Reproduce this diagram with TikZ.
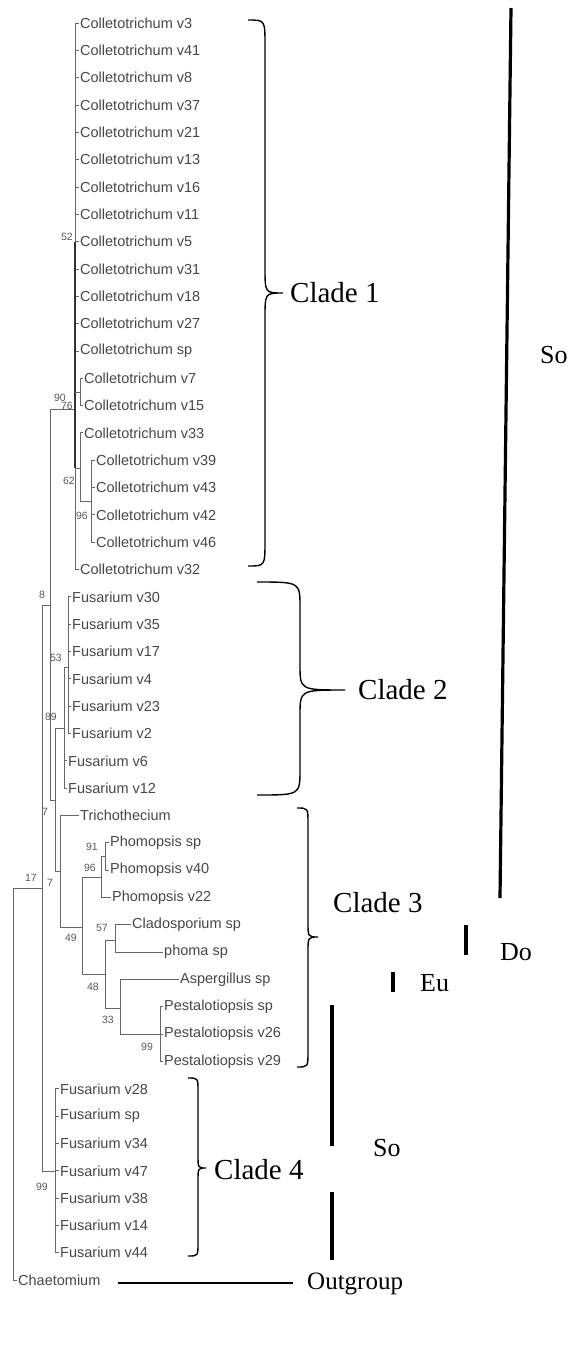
\documentclass[tikz,border=0pt]{standalone}
\usepackage{fontspec}
\setmainfont{Liberation Serif}
\newfontfamily\arialf{Liberation Sans}
\begin{document}
\begin{tikzpicture}[x=1pt,y=-1pt,
  leaf/.style={anchor=west, inner xsep=1.5pt, inner ysep=0pt, font=\arialf\fontsize{14.5}{15}\selectfont, text=black!72},
  sv/.style={font=\arialf\fontsize{10.5}{11}\selectfont, text=black!65, inner sep=0pt},
  br/.style={draw=black!60, line width=1pt},
  darkbr/.style={draw=black!80, line width=2pt},
  cbrace/.style={draw=black, line width=1.4pt},
  big/.style={font=\fontsize{29}{30}\selectfont, anchor=west, inner sep=0pt},
  mid/.style={font=\fontsize{26}{27}\selectfont, anchor=west, inner sep=0pt},
  bar/.style={draw=black, line width=3.2pt},
  conn/.style={draw=black, line width=1.3pt}]
\useasboundingbox[fill=white] (0,0) rectangle (571,1366);
% leaves
\foreach \i/\px/\tx/\yy/\t in {
0/75/80/23.0/Colletotrichum v3,
1/75/80/50.3/Colletotrichum v41,
2/75/80/77.7/Colletotrichum v8,
3/75/80/105.0/Colletotrichum v37,
4/75/80/132.3/Colletotrichum v21,
5/75/80/159.7/Colletotrichum v13,
6/75/80/187.0/Colletotrichum v16,
7/75/80/214.3/Colletotrichum v11,
8/75/80/241.6/Colletotrichum v5,
9/75/80/269.0/Colletotrichum v31,
10/75/80/296.3/Colletotrichum v18,
11/75/80/323.6/Colletotrichum v27,
12/75/80/351.0/Colletotrichum sp,
13/80/84/378.3/Colletotrichum v7,
14/80/84/405.6/Colletotrichum v15,
15/80/84/432.9/Colletotrichum v33,
16/91/96/460.3/Colletotrichum v39,
17/91/96/487.6/Colletotrichum v43,
18/91/96/514.9/Colletotrichum v42,
19/91/96/542.3/Colletotrichum v46,
20/75/80/569.6/Colletotrichum v32,
21/68/72/596.9/Fusarium v30,
22/68/72/624.3/Fusarium v35,
23/68/72/651.6/Fusarium v17,
24/68/72/678.9/Fusarium v4,
25/68/72/706.3/Fusarium v23,
26/68/72/733.6/Fusarium v2,
27/64/68/760.9/Fusarium v6,
28/64/68/788.2/Fusarium v12,
29/60/80/815.6/Trichothecium,
30/105/110/842.9/Phomopsis sp,
31/105/110/870.2/Phomopsis v40,
32/101/112/897.6/Phomopsis v22,
33/115/132/924.9/Cladosporium sp,
34/115/164/952.2/phoma sp,
35/120/180/979.6/Aspergillus sp,
36/160/164/1006.9/Pestalotiopsis sp,
37/160/164/1034.2/Pestalotiopsis v26,
38/160/164/1061.5/Pestalotiopsis v29,
39/55/60/1088.9/Fusarium v28,
40/55/60/1116.2/Fusarium sp,
41/55/60/1143.5/Fusarium v34,
42/55/60/1170.9/Fusarium v47,
43/55/60/1198.2/Fusarium v38,
44/55/60/1225.5/Fusarium v14,
45/55/60/1252.8/Fusarium v44,
46/13/18/1280.2/Chaetomium}{
  \node[leaf] (l\i) at (\tx-1.5,\yy) {\t};
  \draw[br] (\px,\yy) -- (l\i.west);
}
% internal nodes
\coordinate (cA) at (75,409);
\coordinate (n76) at (80,392);
\coordinate (n62) at (80,468);
\coordinate (n96) at (91,501);
\coordinate (n8) at (50,605);
\coordinate (n7a) at (55,800);
\coordinate (n89) at (64,728);
\coordinate (n53) at (68,667);
\coordinate (n7b) at (60,871);
\coordinate (n49) at (82,927);
\coordinate (n96p) at (101,877);
\coordinate (n91) at (105,856);
\coordinate (n48) at (105,974);
\coordinate (n57) at (115,940);
\coordinate (n33) at (120,1008);
\coordinate (n99p) at (160,1034);
\coordinate (n17) at (42,888);
\coordinate (n99) at (55,1171);
\coordinate (root) at (13,1084);
% branches
\draw[br] (root |- n17) -- (root |- l46);
\draw[br] (root |- n17) -- (n17);
\draw[br] (n17 |- n8) -- (n17 |- n99);
\draw[br] (n17 |- n8) -- (n8);
\draw[br] (n17 |- n99) -- (n99);
\draw[br] (n8 |- cA) -- (n8 |- n7a);
\draw[br] (n8 |- cA) -- (cA);
\draw[br] (n8 |- n7a) -- (n7a);
\draw[br] (cA |- l0) -- (cA |- l20);
\draw[darkbr] (cA |- l8) -- (cA |- n62);
\draw[br] (cA |- n76) -- (n76);
\draw[br] (cA |- n62) -- (n62);
\draw[br] (n76 |- l13) -- (n76 |- l14);
\draw[br] (n62 |- l15) -- (n62 |- n96);
\draw[br] (n62 |- n96) -- (n96);
\draw[br] (n96 |- l16) -- (n96 |- l19);
\draw[br] (n7a |- n89) -- (n7a |- n7b);
\draw[br] (n7a |- n89) -- (n89);
\draw[br] (n7a |- n7b) -- (n7b);
\draw[br] (n89 |- n53) -- (n89 |- l28);
\draw[br] (n89 |- n53) -- (n53);
\draw[br] (n53 |- l21) -- (n53 |- l26);
\draw[br] (n7b |- l29) -- (n7b |- n49);
\draw[br] (n7b |- n49) -- (n49);
\draw[br] (n49 |- n96p) -- (n49 |- n48);
\draw[br] (n49 |- n96p) -- (n96p);
\draw[br] (n49 |- n48) -- (n48);
\draw[br] (n96p |- n91) -- (n96p |- l32);
\draw[br] (n96p |- n91) -- (n91);
\draw[br] (n91 |- l30) -- (n91 |- l31);
\draw[br] (n48 |- n57) -- (n48 |- n33);
\draw[br] (n48 |- n57) -- (n57);
\draw[br] (n48 |- n33) -- (n33);
\draw[br] (n57 |- l33) -- (n57 |- l34);
\draw[br] (n33 |- l35) -- (n33 |- n99p);
\draw[br] (n33 |- n99p) -- (n99p);
\draw[br] (n99p |- l36) -- (n99p |- l38);
\draw[br] (n99 |- l39) -- (n99 |- l45);
% support values
\node[sv] (s52) at (67,237) {52};
\node[sv] (s90) at (60,398) {90};
\node[sv] (s76) at (67,406) {76};
\node[sv] (s62) at (69,481) {62};
\node[sv] (s96a) at (82,516) {96};
\node[sv] (s8) at (42,595) {8};
\node[sv] (s53) at (56,658) {53};
\node[sv] (s89) at (51,717) {89};
\node[sv] (s7a) at (45,812) {7};
\node[sv] (s17) at (31,878) {17};
\node[sv] (s7b) at (50,883) {7};
\node[sv] (s91) at (92,847) {91};
\node[sv] (s96b) at (90,868) {96};
\node[sv] (s49) at (71,938) {49};
\node[sv] (s57) at (102,928) {57};
\node[sv] (s48) at (93,987) {48};
\node[sv] (s33) at (108,1020) {33};
\node[sv] (s99a) at (147,1047) {99};
\node[sv] (s99b) at (42,1187) {99};
% braces
\draw[cbrace] (248,20) .. controls (265,20) .. (265,45) -- (265,268) .. controls (265,293) .. (283,293) .. controls (265,293) .. (265,318) -- (265,541) .. controls (265,566) .. (248,566);
\draw[cbrace] (257,582) .. controls (300,582) .. (300,607) -- (300,665) .. controls (300,690) .. (345,690) .. controls (300,690) .. (300,715) -- (300,770) .. controls (300,795) .. (257,795);
\draw[cbrace] (297,808) .. controls (308,808) .. (308,823) -- (308,922) .. controls (308,937) .. (318,937) .. controls (308,937) .. (308,952) -- (308,1052) .. controls (308,1067) .. (297,1067);
\draw[cbrace] (188,1078) .. controls (198,1078) .. (198,1091) -- (198,1155) .. controls (198,1168) .. (206,1168) .. controls (198,1168) .. (198,1181) -- (198,1243) .. controls (198,1256) .. (188,1256);
% labels
\node[big] (clade1) at (290,293) {Clade 1};
\node[big] (clade2) at (358,690) {Clade 2};
\node[big] (clade3) at (333,903) {Clade 3};
\node[big] (clade4) at (214,1170) {Clade 4};
\node[mid] (so1) at (540,355) {So};
\node[mid] (do) at (500,952) {Do};
\node[mid] (eu) at (420,983) {Eu};
\node[mid] (so2) at (373,1148) {So};
\node[mid, font=\fontsize{25}{26}\selectfont] (outg) at (307,1284) {Outgroup};
% bars
\coordinate (soTop) at (511,8);
\coordinate (soBot) at (500,898);
\draw[bar] (soTop) -- (soBot);
\coordinate (doTop) at (466,925);
\coordinate (doBot) at (466,955);
\draw[bar] (doTop) -- (doBot);
\coordinate (euTop) at (393,972);
\coordinate (euBot) at (393,992);
\draw[bar] (euTop) -- (euBot);
\coordinate (sbA) at (332,1005);
\coordinate (sbB) at (332,1146);
\coordinate (sbC) at (332,1192);
\coordinate (sbD) at (332,1260);
\draw[bar] (sbA) -- (sbB);
\draw[bar] (sbC) -- (sbD);
\coordinate (ogA) at (118,1283);
\path (ogA -| outg.west) coordinate (ogB);
\draw[conn] (ogA) -- ([xshift=-14pt]ogB);
\end{tikzpicture}
\end{document}
